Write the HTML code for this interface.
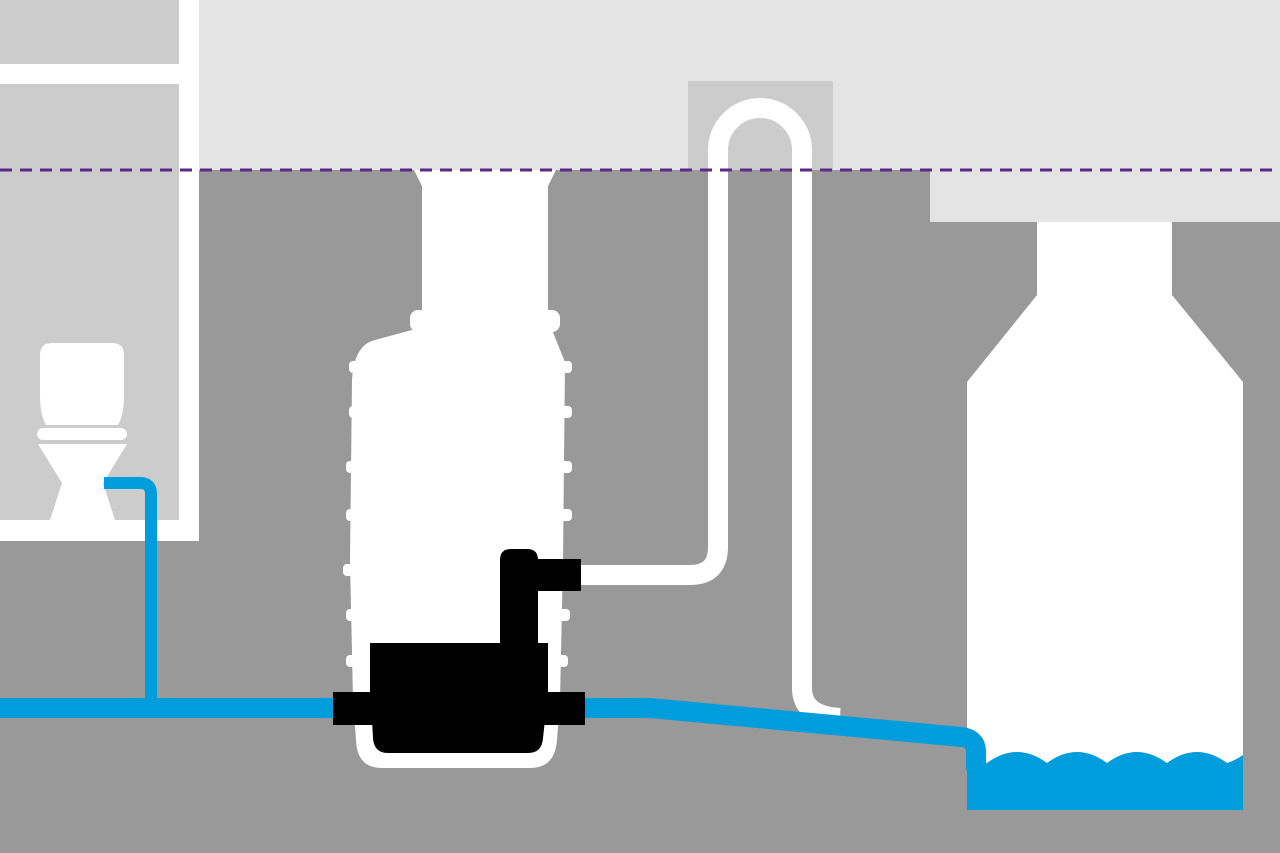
<!DOCTYPE html>
<html><head><meta charset="utf-8"><style>html,body{margin:0;padding:0;background:#999}svg{display:block}</style></head>
<body>
<svg width="1280" height="853" viewBox="0 0 1280 853" xmlns="http://www.w3.org/2000/svg">
<rect x="0" y="0" width="1280" height="853" fill="#999999"/>
<rect x="0" y="0" width="1280" height="170" fill="#e4e4e4"/>
<rect x="930" y="170" width="350" height="52" fill="#e4e4e4"/>
<rect x="0" y="0" width="198" height="540" fill="#cccccc"/>
<rect x="179" y="0" width="20" height="541" fill="#fff"/>
<rect x="0" y="64" width="180" height="20" fill="#fff"/>
<rect x="0" y="520" width="199" height="21" fill="#fff"/>
<rect x="688" y="81" width="145" height="89" fill="#cccccc"/>
<path d="M52 343 H112 Q124 343 124 355 V395 Q124 415 118 425 H46 Q40 415 40 395 V355 Q40 343 52 343 Z" fill="#fff"/>
<rect x="37" y="428" width="90" height="12" rx="6" fill="#fff"/>
<polygon points="38,444 127,444 103,483 115,520 50,520 62,483" fill="#fff"/>
<path d="M104 483 H140 Q151 483 151 494 V698" fill="none" stroke="#009ddd" stroke-width="12"/>
<polygon points="1037,222 1172,222 1172,295 1243,382 1243,770 967,770 967,382 1037,295" fill="#fff"/>
<path d="M987 763 Q1002 752 1017 752 Q1032 752 1047 763 Q1062 752 1077 752 Q1092 752 1107 763 Q1122 752 1137 752 Q1152 752 1167 763 Q1182 752 1197 752 Q1212 752 1227 763 Q1236 760 1243 755 V810 H967 V763 Z" fill="#009ddd"/>
<path d="M575 575 H690 Q718 575 718 547 V150 A42 42 0 0 1 802 150 V688 Q802 716 840 718" fill="none" stroke="#fff" stroke-width="20"/>
<rect x="0" y="698" width="340" height="20" fill="#009ddd"/>
<path d="M580 708 H650 L962 737 Q976 739 976 752 V770" fill="none" stroke="#009ddd" stroke-width="20"/>
<polygon points="414,170 556,170 548,186 548,320 422,320 422,186" fill="#fff"/>
<rect x="410" y="310" width="150" height="22" rx="8" fill="#fff"/>
<path d="M412 330 L552 330 L565 362 L563 560 L560 700 L557 740 Q555 768 530 768 H382 Q357 768 356 740 L353 700 L350 560 L352 380 Q354 345 375 340 Z" fill="#fff"/>
<g fill="#fff">
<rect x="349" y="361" width="12" height="12" rx="4"/><rect x="349" y="406" width="12" height="12" rx="4"/>
<rect x="346" y="461" width="12" height="12" rx="4"/><rect x="346" y="509" width="12" height="12" rx="4"/>
<rect x="343" y="564" width="12" height="12" rx="4"/><rect x="346" y="609" width="12" height="12" rx="4"/>
<rect x="346" y="655" width="12" height="12" rx="4"/>
<rect x="560" y="361" width="12" height="12" rx="4"/><rect x="560" y="406" width="12" height="12" rx="4"/>
<rect x="560" y="461" width="12" height="12" rx="4"/><rect x="560" y="509" width="12" height="12" rx="4"/>
<rect x="558" y="609" width="12" height="12" rx="4"/><rect x="556" y="655" width="12" height="12" rx="4"/>
</g>
<g fill="#000">
<rect x="370" y="643" width="178" height="60"/>
<rect x="333" y="692" width="252" height="33"/>
<path d="M372 720 H545 L543 738 Q542 753 528 753 H388 Q374 753 373 738 Z"/>
<path d="M500 643 V560 Q500 549 511 549 H527 Q538 549 538 560 V643 Z"/>
<rect x="530" y="559" width="51" height="32"/>
</g>
<line x1="0" y1="170" x2="1280" y2="170" stroke="#5a2a86" stroke-width="3" stroke-dasharray="12 8"/>
</svg>
</body></html>
